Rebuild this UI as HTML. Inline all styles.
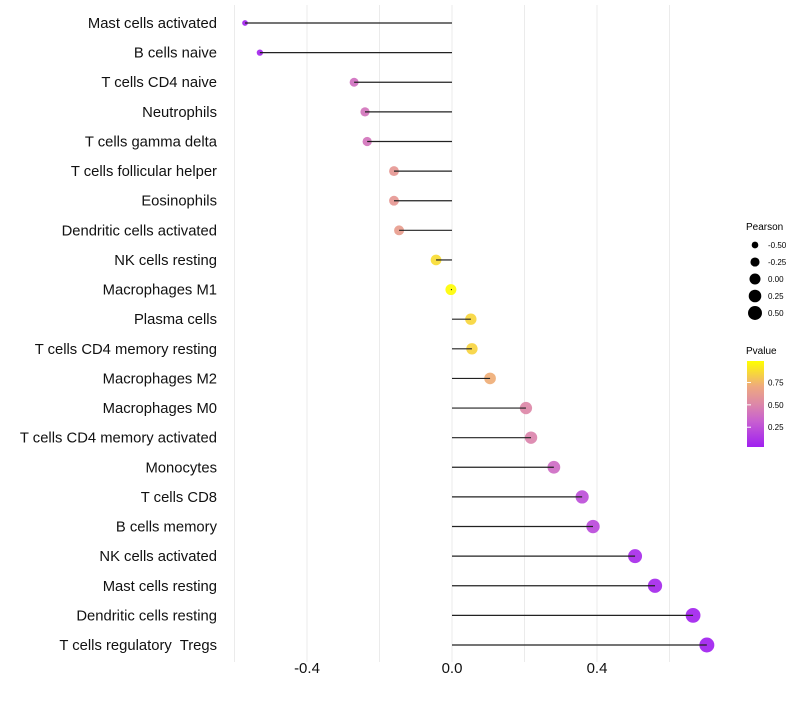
<!DOCTYPE html>
<html><head><meta charset="utf-8"><style>
body{margin:0;background:#fff;font-family:"Liberation Sans",sans-serif}
</style></head><body>
<svg id="c" width="800" height="700" xmlns="http://www.w3.org/2000/svg">
<defs><linearGradient id="pg" x1="0" y1="1" x2="0" y2="0">
<stop offset="0" stop-color="#A020F0"/><stop offset="0.3" stop-color="#C860D0"/><stop offset="0.5" stop-color="#DD88A8"/><stop offset="0.7" stop-color="#EEA880"/><stop offset="1" stop-color="#FFFF00"/></linearGradient></defs>
<g id="grid"></g><g id="marks"></g><g id="labels"></g>
<g font-size="10" fill="#000">
<text x="746" y="230">Pearson</text>
<g id="sizeLeg"></g>
<text x="746" y="354">Pvalue</text>
<rect x="747" y="361" width="17" height="86" fill="url(#pg)"/>
<g id="colLeg" font-size="8"></g>
</g>
</svg>
<script>
const categories=["Mast cells activated","B cells naive","T cells CD4 naive","Neutrophils","T cells gamma delta","T cells follicular helper","Eosinophils","Dendritic cells activated","NK cells resting","Macrophages M1","Plasma cells","T cells CD4 memory resting","Macrophages M2","Macrophages M0","T cells CD4 memory activated","Monocytes","T cells CD8","B cells memory","NK cells activated","Mast cells resting","Dendritic cells resting","T cells regulatory  Tregs"];
const pearson=[-0.571,-0.530,-0.270,-0.240,-0.234,-0.160,-0.160,-0.146,-0.044,-0.003,0.052,0.055,0.105,0.204,0.218,0.281,0.359,0.389,0.505,0.560,0.665,0.703];
const pvalue=[0.02,0.03,0.38,0.40,0.40,0.60,0.60,0.63,0.88,0.99,0.86,0.85,0.72,0.50,0.48,0.36,0.22,0.20,0.06,0.04,0.02,0.01];
const xTicks=[-0.4,0.0,0.4];
const xGrid=[-0.6,-0.4,-0.2,0,0.2,0.4,0.6];
const sizeLegendVals=[-0.5,-0.25,0,0.25,0.5];
const colLegendVals=[0.25,0.5,0.75];
const NS="http://www.w3.org/2000/svg";
const X=v=>452+v*362.5;
const Y=i=>23+i*(622/21);
const R=v=>Math.sqrt(Math.max(2.5,25+v*34))+0.5;
const stops=[[0,[160,32,240]],[0.3,[200,96,208]],[0.5,[221,136,168]],[0.7,[238,168,128]],[1,[255,255,0]]];
function col(p){for(let i=1;i<stops.length;i++){if(p<=stops[i][0]){const a=stops[i-1],b=stops[i],t=(p-a[0])/(b[0]-a[0]);return`rgb(${a[1].map((c,k)=>Math.round(c+(b[1][k]-c)*t)).join(',')})`;}}return'rgb(255,255,0)';}
function el(t,a,p){const e=document.createElementNS(NS,t);for(const k in a)e.setAttribute(k,a[k]);p.appendChild(e);return e;}
const grid=document.getElementById('grid'),marks=document.getElementById('marks'),labels=document.getElementById('labels');
xGrid.forEach(v=>{const l=el('line',{x1:X(v),x2:X(v),y1:5,y2:662,stroke:'#ebebeb','stroke-width':1},grid);

});
xTicks.forEach(v=>{const t=el('text',{x:X(v),y:673,'text-anchor':'middle','font-size':15,fill:'#111'},labels);t.textContent=v.toFixed(1);

});
categories.forEach((c,i)=>{
const t=el('text',{x:217,y:Y(i)+5,'text-anchor':'end','font-size':14.8,fill:'#111',style:'white-space:pre'},labels);t.textContent=c;


const p=el('circle',{cx:X(pearson[i]),cy:Y(i),r:R(pearson[i]),fill:col(pvalue[i]),'fill-opacity':0.92},marks);


const s=el('line',{x1:X(0),x2:X(pearson[i]),y1:Y(i),y2:Y(i),stroke:'#222','stroke-width':1.2},marks);


});
const sl=document.getElementById('sizeLeg');
sizeLegendVals.forEach((v,i)=>{const y=245+i*17;
const c=el('circle',{cx:755,cy:y,r:R(v),fill:'#000'},sl);


const t=el('text',{x:768,y:y+3,'font-size':8},sl);t.textContent=v.toFixed(2);

});
const cl=document.getElementById('colLeg');
colLegendVals.forEach(v=>{const y=446-(v-0.04)/0.95*85;
const k=el('line',{x1:747,x2:751,y1:y,y2:y,stroke:'#fff'},cl);


const t=el('text',{x:768,y:y+3},cl);t.textContent=v.toFixed(2);

});
</script>
</body></html>
